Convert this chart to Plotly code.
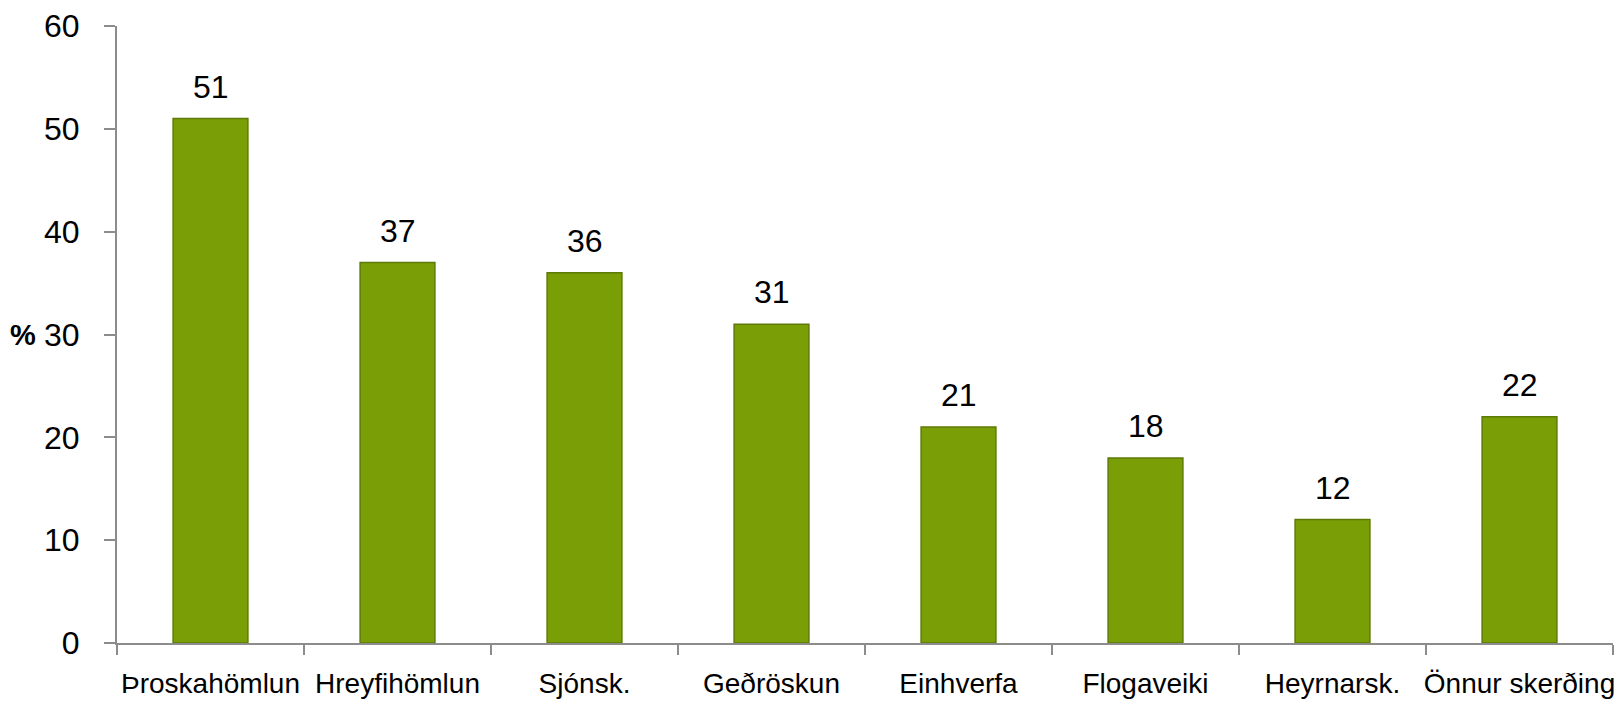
import plotly.graph_objects as go

categories = ["Þroskahömlun", "Hreyfihömlun", "Sjónsk.", "Geðröskun", "Einhverfa", "Flogaveiki", "Heyrnarsk.", "Önnur skerðing"]
values = [51, 37, 36, 31, 21, 18, 12, 22]
y_ticks = [0, 10, 20, 30, 40, 50, 60]

FONT = "Liberation Sans, Arial, sans-serif"

fig = go.Figure()
fig.add_trace(go.Bar(
    x=categories, y=values,
    marker=dict(color="#7a9f06", line=dict(color="#5e7a06", width=1.5)),
    width=0.4,
    hoverinfo="skip",
))

for c, v in zip(categories, values):
    fig.add_annotation(x=c, y=v, text=str(v), showarrow=False, yanchor="bottom",
                       yshift=12, font=dict(family=FONT, size=32, color="#000"))

fig.add_annotation(xref="paper", yref="y", x=-0.063, y=30, text="<b>%</b>", showarrow=False,
                   xanchor="center", yanchor="middle",
                   font=dict(family=FONT, size=29, color="#000"))

fig.update_layout(
    width=1620, height=707,
    margin=dict(l=117, r=7, t=26, b=64),
    plot_bgcolor="white", paper_bgcolor="white",
    showlegend=False,
    bargap=0.6,
)
fig.update_xaxes(
    automargin=False,
    showline=True, linecolor="#8c8c8c", linewidth=2,
    ticks="outside", ticklen=10, tickcolor="#8c8c8c", tickwidth=2,
    tickson="boundaries", tickangle=0,
    ticklabelstandoff=14,
    tickfont=dict(family=FONT, size=28, color="#000"),
    showgrid=False,
)
fig.update_yaxes(
    automargin=False,
    range=[0, 60], tickvals=y_ticks,
    showline=True, linecolor="#8c8c8c", linewidth=2,
    ticks="outside", ticklen=11, tickcolor="#8c8c8c", tickwidth=2,
    ticklabelstandoff=18,
    tickfont=dict(family=FONT, size=32, color="#000"),
    showgrid=False, zeroline=False,
)

fig.write_html("out.html", config={"displayModeBar": False},
               post_script="document.body.style.margin='0';document.body.style.overflow='hidden';")
